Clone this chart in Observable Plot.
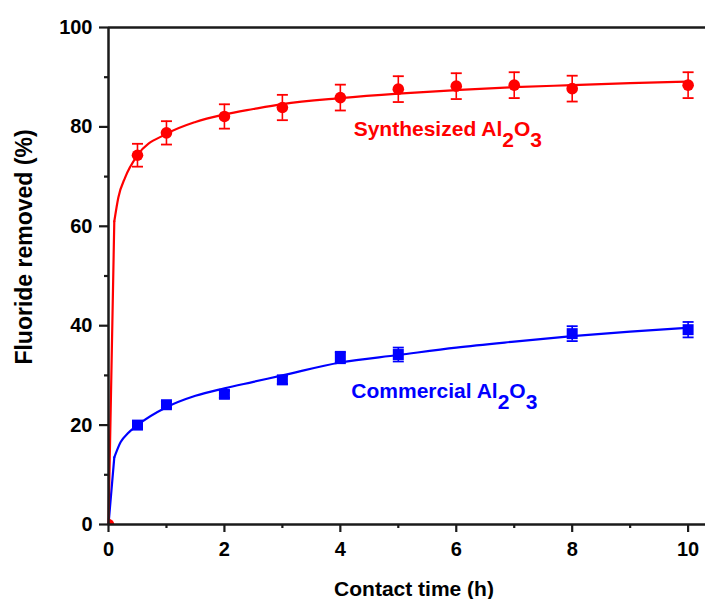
<!DOCTYPE html>
<html>
<head>
<meta charset="utf-8">
<script src="https://cdn.jsdelivr.net/npm/d3@7"></script>
<script src="https://cdn.jsdelivr.net/npm/@observablehq/plot@0.6"></script>
<style>
  body { margin: 0; background: #fff; }
  svg { display: block; }
</style>
</head>
<body>
<div id="chart"></div>
<script>
// Measured points (contact time in h, fluoride removed in %)
const synTime  = [0, 0.5, 1, 2, 3, 4, 5, 6, 7, 8, 10];
const synValue = [0, 74.3, 78.8, 82.1, 83.9, 85.9, 87.6, 88.2, 88.4, 87.7, 88.4];
const synErr   = [0, 2.3, 2.35, 2.45, 2.55, 2.6, 2.6, 2.6, 2.6, 2.6, 2.6];

const comTime  = [0.5, 1, 2, 3, 4, 5, 8, 10];
const comValue = [20.0, 24.1, 26.2, 29.1, 33.6, 34.2, 38.4, 39.2];
const comErr   = [0.5, 0.6, 0.7, 0.8, 1.15, 1.4, 1.5, 1.55];

// Fitted curves
const synFitTime  = [0, 0.1, 0.17, 0.29, 0.5, 1, 1.5, 2, 2.5, 3, 4, 5, 6, 7, 8, 9, 10];
const synFitValue = [0, 61.0, 65.8, 69.9, 74.3, 78.6, 81.0, 82.5, 83.6, 84.6, 85.8, 86.7, 87.4, 88.0, 88.4, 88.8, 89.1];
const comFitTime  = [0, 0.1, 0.21, 0.33, 0.5, 1, 1.5, 2, 2.5, 3, 4, 5, 6, 7, 8, 9, 10];
const comFitValue = [0, 13.5, 16.6, 18.3, 20.0, 23.6, 25.9, 27.4, 28.7, 30.0, 32.6, 34.1, 35.6, 36.8, 37.9, 38.8, 39.6];

const seriesNames = ["Synthesized Al2O3", "Commercial Al2O3"];
const xMajor = [0, 2, 4, 6, 8, 10];
const xMinor = [1, 3, 5, 7, 9];
const yMajor = [0, 20, 40, 60, 80, 100];
const yMinor = [10, 30, 50, 70, 90];
const xTitle = "Contact time (h)";
const yTitle = "Fluoride removed (%)";

const RED = "#ff0000", BLUE = "#0000ff", AX = "#1a1a1a";

const syn = synTime.map((t, i) => ({t, v: synValue[i], e: synErr[i]}));
const com = comTime.map((t, i) => ({t, v: comValue[i], e: comErr[i]}));
const synFit = synFitTime.map((t, i) => ({t, v: synFitValue[i]}));
const comFit = comFitTime.map((t, i) => ({t, v: comFitValue[i]}));

const synBars = syn.filter(d => d.e > 0);
const comBars = com.filter(d => d.e > 0);

const capSymbol = {
  draw(context, size) {
    const r = Math.sqrt(size / Math.PI);
    context.moveTo(-r, 0);
    context.lineTo(r, 0);
  }
};

function fitLines(data, color) {
  const first = data[1].t;
  return [
    Plot.line(data.filter(d => d.t <= first), {x: "t", y: "v", stroke: color, strokeWidth: 2.2, curve: "linear"}),
    Plot.line(data.filter(d => d.t >= first), {x: "t", y: "v", stroke: color, strokeWidth: 2.2, curve: "monotone-x"})
  ];
}

function errorBars(data, color) {
  return [
    Plot.ruleX(data, {x: "t", y1: d => d.v - d.e, y2: d => d.v + d.e, stroke: color, strokeWidth: 1.6}),
    Plot.dot(data, {x: "t", y: d => d.v + d.e, symbol: capSymbol, r: 5.5, stroke: color, strokeWidth: 1.8, fill: "none"}),
    Plot.dot(data, {x: "t", y: d => d.v - d.e, symbol: capSymbol, r: 5.5, stroke: color, strokeWidth: 1.8, fill: "none"})
  ];
}

const fontFamily = "'Liberation Sans', Arial, Helvetica, sans-serif";

const chart = Plot.plot({
  width: 705,
  height: 599,
  marginLeft: 108,
  marginRight: 0,
  marginTop: 27,
  marginBottom: 75,
  style: {fontFamily, background: "#fff", color: "#000", overflow: "visible"},
  x: {domain: [0, 10.3], label: null},
  y: {domain: [0, 100], label: null},
  marks: [
    ...fitLines(comFit, BLUE),
    ...fitLines(synFit, RED),
    ...errorBars(comBars, BLUE),
    ...errorBars(synBars, RED),
    Plot.dot(com, {x: "t", y: "v", symbol: "square", r: 6.2, fill: BLUE, stroke: "none"}),
    Plot.dot(syn, {x: "t", y: "v", r: 5.8, fill: RED, stroke: "none", clip: true}),
    Plot.text([seriesNames[0]], {x: 4.23, y: 78.1, text: d => d, fill: RED, fontSize: 21, fontWeight: "bold", textAnchor: "start", lineAnchor: "bottom"}),
    Plot.text([seriesNames[1]], {x: 4.19, y: 25.5, text: d => d, fill: BLUE, fontSize: 21, fontWeight: "bold", textAnchor: "start", lineAnchor: "bottom"}),
    // axes
    Plot.axisX(xMinor, {tickSize: 4, tickFormat: () => "", stroke: AX, strokeWidth: 2.2, label: null}),
    Plot.axisY(yMinor, {tickSize: 4, tickFormat: () => "", stroke: AX, strokeWidth: 2.2, label: null}),
    Plot.axisX(xMajor, {tickSize: 8, tickPadding: 9.5, fontSize: 20, fontWeight: "bold", stroke: AX, strokeWidth: 2.2, fill: "#000", label: null}),
    Plot.axisY(yMajor, {tickSize: 9, tickPadding: 7, fontSize: 20, fontWeight: "bold", stroke: AX, strokeWidth: 2.2, fill: "#000", label: null}),
    Plot.ruleX([0], {stroke: AX, strokeWidth: 2.5}),
    Plot.ruleY([0, 100], {stroke: AX, strokeWidth: 2.5}),
    Plot.text([xTitle], {frameAnchor: "bottom", text: d => d, dx: 7, dy: 71, textAnchor: "middle", lineAnchor: "bottom", fontSize: 21, fontWeight: "bold", fill: "#000"}),
    Plot.text([yTitle], {frameAnchor: "left", text: d => d, rotate: -90, dx: -84, dy: -29, textAnchor: "middle", lineAnchor: "middle", fontSize: 23, fontWeight: "bold", fill: "#000"})
  ]
});

// Subscripts in the chemical formula
chart.querySelectorAll("text").forEach(el => {
  const s = el.textContent;
  if (seriesNames.includes(s)) {
    const base = s.replace("Al2O3", "Al");
    el.innerHTML = "";
    const ns = "http://www.w3.org/2000/svg";
    el.appendChild(document.createTextNode(base));
    [["2", "0.52em"], ["O", "-0.52em"], ["3", "0.52em"]].forEach(([t, dy]) => {
      const ts = document.createElementNS(ns, "tspan");
      ts.setAttribute("dy", dy);
      ts.textContent = t;
      el.appendChild(ts);
    });
  }
});

document.getElementById("chart").appendChild(chart);
</script>
</body>
</html>
